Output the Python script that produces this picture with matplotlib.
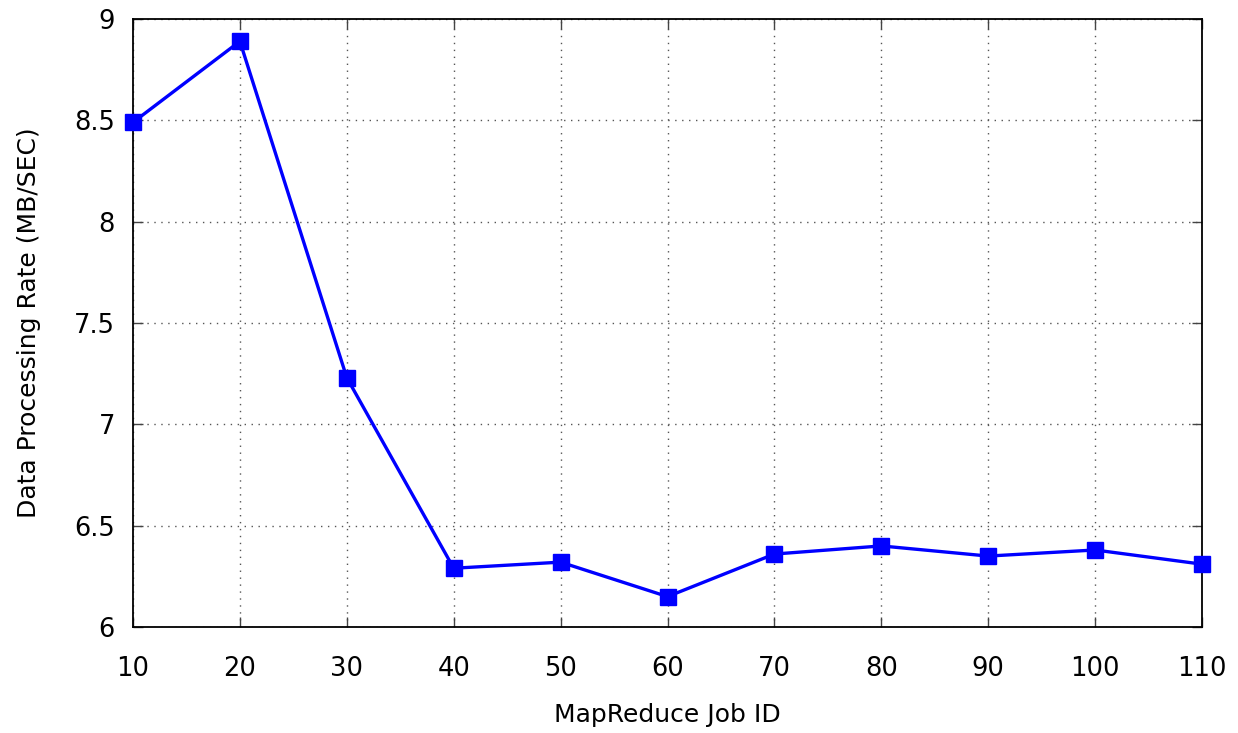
import matplotlib
matplotlib.use('Agg')
import matplotlib.pyplot as plt

# job id vs processing rate
job_ids = [10, 20, 30, 40, 50, 60, 70, 80, 90, 100, 110]
rates = [8.49, 8.89, 7.23, 6.29, 6.32, 6.15, 6.36, 6.40, 6.35, 6.38, 6.31]

x_ticks = [10, 20, 30, 40, 50, 60, 70, 80, 90, 100, 110]
y_ticks = [6, 6.5, 7, 7.5, 8, 8.5, 9]
y_labels = ['6', '6.5', '7', '7.5', '8', '8.5', '9']

plt.rcParams['font.family'] = 'DejaVu Sans'
fig = plt.figure(figsize=(12.38, 7.33), dpi=100)
ax = fig.add_axes([133/1238, 1 - 627/733, (1202-133)/1238, (627-19)/733])

ax.plot(job_ids, rates, color='#0000ff', lw=2.4, marker='s', ms=11,
        zorder=3, clip_on=False)

ax.set_xlim(10, 110)
ax.set_ylim(6, 9)
ax.set_xticks(x_ticks)
ax.set_yticks(y_ticks)
ax.set_yticklabels(y_labels)
ax.tick_params(direction='in', top=True, right=True, length=7, width=1,
               labelsize=18.5, color='#444444')
ax.tick_params(axis='x', pad=21)
ax.tick_params(axis='y', pad=13)
ax.grid(True, linestyle=(0, (1, 4)), color='#555555', lw=1)
for s in ax.spines.values():
    s.set_linewidth(1.3)

ax.set_xlabel('MapReduce Job ID', fontsize=18, labelpad=15)
ax.set_ylabel('Data Processing Rate (MB/SEC)', fontsize=18, labelpad=24)

fig.savefig('out.png', dpi=100)
